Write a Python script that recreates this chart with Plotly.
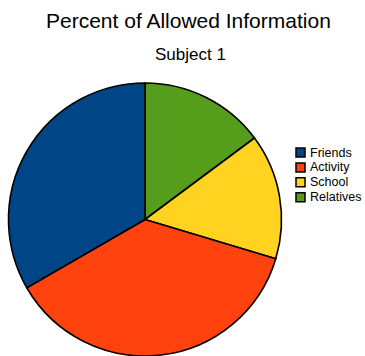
import plotly.graph_objects as go

# Share of allowed information per category, subject 1
categories = ["Friends", "Activity", "School", "Relatives"]
values = [9, 10, 4, 4]
colors = ["#004586", "#ff420e", "#ffd320", "#579d1c"]

title_text = "Percent of Allowed Information"
subtitle_text = "Subject 1"

W, H = 365, 356
FONT = "Liberation Sans, Arial, sans-serif"


def px_x(x):
    return x / W


def px_y(y):
    return 1 - y / H


# Slices run counterclockwise from 12 o'clock in category order,
# i.e. clockwise in reversed order.
fig = go.Figure(
    go.Pie(
        labels=categories[::-1],
        values=values[::-1],
        sort=False,
        direction="clockwise",
        rotation=0,
        textinfo="none",
        marker=dict(colors=colors[::-1], line=dict(color="black", width=1.6)),
        domain=dict(x=[px_x(8), px_x(282)], y=[0, px_y(83)]),
        showlegend=False,
    )
)

# Hand-placed legend: swatches plus labels
shapes = []
annotations = []
row0, step = 152.5, 14.9
for i, (name, col) in enumerate(zip(categories, colors)):
    cy = row0 + i * step
    shapes.append(
        dict(
            type="rect", xref="paper", yref="paper",
            x0=px_x(296), x1=px_x(305), y0=px_y(cy + 4.5), y1=px_y(cy - 4.5),
            fillcolor=col, line=dict(color="black", width=1.5),
        )
    )
    annotations.append(
        dict(
            text=name, xref="paper", yref="paper",
            x=px_x(308), y=px_y(cy), xanchor="left", yanchor="middle",
            showarrow=False, font=dict(family=FONT, size=12.5, color="black"),
        )
    )

annotations.append(
    dict(
        text=title_text, xref="paper", yref="paper",
        x=px_x(188), y=px_y(21), xanchor="center", yanchor="middle",
        showarrow=False, font=dict(family=FONT, size=21, color="black"),
    )
)
annotations.append(
    dict(
        text=subtitle_text, xref="paper", yref="paper",
        x=px_x(191), y=px_y(55), xanchor="center", yanchor="middle",
        showarrow=False, font=dict(family=FONT, size=17, color="black"),
    )
)

fig.update_layout(
    width=W,
    height=H,
    margin=dict(l=0, r=0, t=0, b=0),
    paper_bgcolor="white",
    plot_bgcolor="white",
    shapes=shapes,
    annotations=annotations,
)

fig.write_html("out.html")
